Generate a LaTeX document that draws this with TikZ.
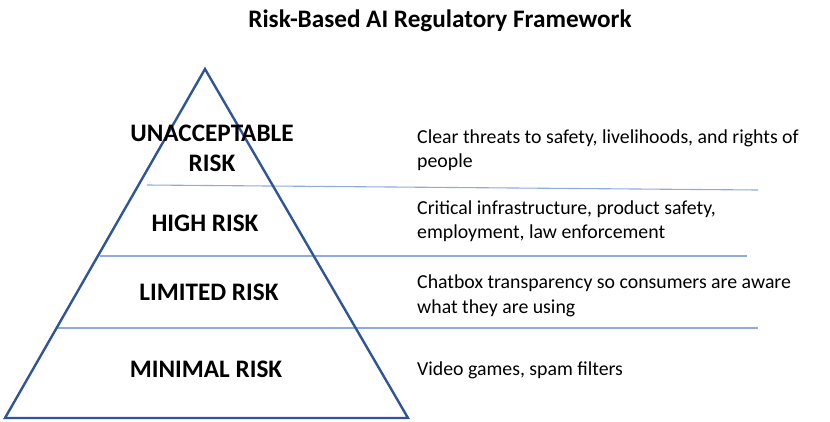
\documentclass[tikz,border=0pt]{standalone}
\usepackage{fontspec}
\setmainfont{Carlito}
\definecolor{pyr}{HTML}{2F5597}
\definecolor{sep}{HTML}{8FAADC}
\begin{document}
\begin{tikzpicture}[x=1pt,y=-1pt,
  tier/.style={font=\bfseries\fontsize{25.2}{30}\selectfont,align=center,inner sep=0pt},
  desc/.style={font=\fontsize{19.8}{24.5}\selectfont,align=left,anchor=west,inner sep=0pt},
  sepline/.style={draw=sep,line width=1.1pt},
  pyrline/.style={draw=pyr,line width=2.4pt,line join=miter}]
\useasboundingbox (0,0) rectangle (830,421);
% pyramid
\coordinate (apex) at (205,69);
\coordinate (bl) at (5,418);
\coordinate (br) at (408,418);
% separator lines
\coordinate (s1a) at (147,185);
\coordinate (s1b) at (758,190);
\coordinate (s2a) at (100,256);
\coordinate (s2b) at (747,256);
\coordinate (s3a) at (57,328);
\coordinate (s3b) at (758,328);
\draw[sepline] (s1a) -- (s1b);
\draw[sepline] (s2a) -- (s2b);
\draw[sepline] (s3a) -- (s3b);
\draw[pyrline] (apex) -- (br) -- (bl) -- cycle;
% title
\node[font=\bfseries\fontsize{25.2}{30}\selectfont,inner sep=0pt] (title) at (440,21) {Risk-Based AI Regulatory Framework};
% tiers
\node[tier] (t1) at (212,148) {UNACCEPTABLE\\RISK};
\node[tier] (t2) at (205,223) {HIGH RISK};
\node[tier] (t3) at (209,292) {LIMITED RISK};
\node[tier] (t4) at (206,369) {MINIMAL RISK};
% descriptions
\node[desc] (d1) at (417,150) {Clear threats to safety, livelihoods, and rights of\\people};
\node[desc] (d2) at (417,221) {Critical infrastructure, product safety,\\employment, law enforcement};
\node[desc] (d3) at (417,296) {Chatbox transparency so consumers are aware\\what they are using};
\node[desc] (d4) at (417,370) {Video games, spam filters};
\end{tikzpicture}
\end{document}
